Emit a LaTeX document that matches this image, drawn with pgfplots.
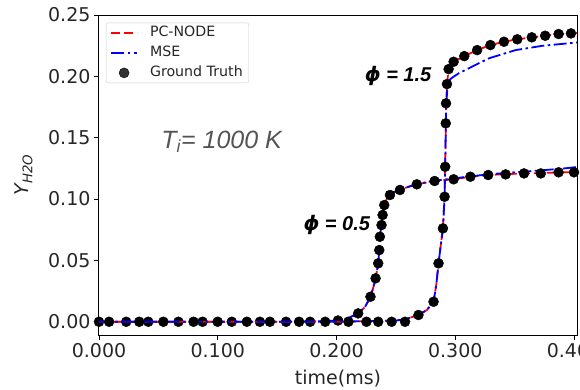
\documentclass[border=0pt]{standalone}
\usepackage{pgfplots}
\pgfplotsset{compat=1.18}
\usepackage{fontspec}
\setmainfont{DejaVu Sans}
\newfontfamily\arial{Liberation Sans}
\definecolor{annot}{gray}{0.33}

\begin{document}
\begin{tikzpicture}
\begin{axis}[
  name=ax,
  scale only axis,
  width=478pt, height=320pt,
  xmin=0, xmax=0.4025,
  ymin=-0.0108, ymax=0.25,
  xtick={0,0.1,0.2,0.3,0.4},
  ytick={0,0.05,0.1,0.15,0.2,0.25},
  tick align=outside,
  tick pos=left,
  major tick length=5pt,
  axis line style={line width=1pt},
  every tick/.style={black, line width=0.9pt},
  /pgf/number format/assume math mode=true,
  xticklabel style={/pgf/number format/fixed, /pgf/number format/fixed zerofill, /pgf/number format/precision=3},
  yticklabel style={/pgf/number format/fixed, /pgf/number format/fixed zerofill, /pgf/number format/precision=2},
  scaled ticks=false,
  tick label style={font=\fontsize{19}{22}\selectfont, text=black!85},
  xlabel={time(ms)},
  ylabel={\itshape Y\textsubscript{H2O}},
  label style={font=\fontsize{19}{22}\selectfont, text=black!85},
  xlabel style={at={(axis description cs:0.5,0)}, anchor=center, yshift=-44pt},
  ylabel style={at={(axis description cs:-0.158,0.5)}, anchor=center},
  legend cell align=left,
  legend image code/.code={\draw[mark repeat=2, mark phase=2, #1] plot coordinates {(0pt,0pt) (13pt,0pt) (26pt,0pt)};},
  legend style={at={(0,1)}, anchor=north west, xshift=7pt, yshift=-7.7pt,
    draw=black!20, rounded corners=2pt, fill=white, fill opacity=0.8, text opacity=1,
    font=\fontsize{14.2}{17}\selectfont, text=black!85,
    inner xsep=4pt, inner ysep=1.5pt, row sep=3pt,
    /tikz/every odd column/.style={column sep=10pt},
    nodes={inner sep=2pt, text height=10pt, text depth=3pt}},
  clip mode=individual,
]

% PC-NODE predictions
\addplot[red, dash pattern=on 9pt off 4pt, line width=1.8pt] coordinates {
  (0,0) (0.15,0) (0.19,0.0005) (0.20,0.001) (0.21,0.003) (0.2182,0.0068) (0.224,0.012)
  (0.2286,0.0204) (0.2310,0.028) (0.2329,0.0354) (0.2351,0.0476) (0.2360,0.0584)
  (0.2365,0.0693) (0.2379,0.0788) (0.2388,0.0870) (0.2402,0.0951) (0.2420,0.0995)
  (0.2450,0.1033) (0.2490,0.1058) (0.2534,0.1074) (0.2600,0.1098) (0.2676,0.1120)
  (0.2826,0.1147) (0.2986,0.1161) (0.3127,0.1182) (0.3277,0.1196) (0.3424,0.1203)
  (0.3579,0.1209) (0.3720,0.1212) (0.3870,0.1217) (0.4016,0.1219) (0.4025,0.1220)
};
\addlegendentry{PC-NODE}

% MSE predictions
\addplot[blue, line width=1.8pt, dash pattern=on 13pt off 3.5pt on 2.5pt off 3.5pt] coordinates {
  (0,0) (0.15,0) (0.19,0.0005) (0.20,0.001) (0.21,0.003) (0.2182,0.0068) (0.224,0.012)
  (0.2286,0.0204) (0.2310,0.028) (0.2329,0.0354) (0.2351,0.0476) (0.2360,0.0584)
  (0.2365,0.0693) (0.2379,0.0788) (0.2388,0.0870) (0.2402,0.0951) (0.2420,0.0995)
  (0.2450,0.1033) (0.2490,0.1058) (0.2534,0.1074) (0.2600,0.1098) (0.2676,0.1122)
  (0.2826,0.1150) (0.2986,0.1168) (0.3127,0.1185) (0.3300,0.1203) (0.3500,0.1218)
  (0.3700,0.1232) (0.3900,0.1248) (0.4025,0.1261)
};
\addlegendentry{MSE}

% Ground truth
\addplot[only marks, mark=*, mark size=5pt, black] coordinates {
  (0,0) (0.0229,0) (0.0415,0) (0.0669,0) (0.0872,0) (0.1118,0) (0.1355,0)
  (0.1575,0) (0.1778,0) (0.2012,0.001) (0.2182,0.0068) (0.2286,0.0204)
  (0.2329,0.0354) (0.2351,0.0476) (0.2360,0.0584) (0.2365,0.0693) (0.2379,0.0788)
  (0.2388,0.0870) (0.2402,0.0951) (0.2450,0.1033) (0.2534,0.1074) (0.2676,0.1120)
  (0.2826,0.1147) (0.2986,0.1161) (0.3127,0.1182) (0.3277,0.1196) (0.3424,0.1201)
  (0.3579,0.1209) (0.3720,0.1209) (0.3870,0.1218) (0.4000,0.1218)
};
\addlegendentry{Ground Truth}

% phi = 1.5 case
\addplot[red, dash pattern=on 9pt off 4pt, line width=1.8pt, forget plot] coordinates {
  (0,0) (0.20,0) (0.25,0.001) (0.2577,0.002) (0.2690,0.0055) (0.2760,0.0095)
  (0.2817,0.0163) (0.2840,0.030) (0.2859,0.0476) (0.2880,0.064) (0.2896,0.0761)
  (0.2910,0.1019) (0.2915,0.1263) (0.2921,0.1617) (0.2924,0.1780) (0.2930,0.1937)
  (0.2944,0.2059) (0.2986,0.2119) (0.3076,0.2165) (0.3184,0.2214) (0.3296,0.2255)
  (0.3410,0.2282) (0.3522,0.2302) (0.3644,0.2318) (0.3757,0.2331) (0.3870,0.2345)
  (0.3974,0.2350) (0.4025,0.2353)
};
\addplot[blue, line width=1.8pt, dash pattern=on 13pt off 3.5pt on 2.5pt off 3.5pt, forget plot] coordinates {
  (0,0) (0.20,0) (0.25,0.001) (0.2577,0.002) (0.2690,0.0055) (0.2760,0.0095)
  (0.2817,0.0163) (0.2840,0.030) (0.2859,0.0476) (0.2880,0.064) (0.2896,0.0761)
  (0.2910,0.1019) (0.2915,0.1263) (0.2921,0.1617) (0.2924,0.1780) (0.2935,0.1920)
  (0.2950,0.1970) (0.2975,0.1990) (0.3030,0.2025) (0.3113,0.2065) (0.3283,0.2147)
  (0.3508,0.2214) (0.3734,0.2249) (0.4025,0.2276)
};
\addplot[only marks, mark=*, mark size=5pt, black, forget plot] coordinates {
  (0.0085,0) (0.0339,0) (0.0542,0) (0.0796,0) (0.0999,0) (0.1245,0) (0.1439,0)
  (0.1685,0) (0.1905,0) (0.2100,0) (0.2252,0) (0.2351,0) (0.2464,0) (0.2577,0)
  (0.2690,0.0055) (0.2817,0.0163) (0.2859,0.0476) (0.2896,0.0761) (0.2910,0.1019)
  (0.2915,0.1263) (0.2920,0.1617) (0.2922,0.1780) (0.2930,0.1937) (0.2944,0.2059)
  (0.2986,0.2119) (0.3076,0.2165) (0.3184,0.2214) (0.3296,0.2255) (0.3410,0.2282)
  (0.3522,0.2302) (0.3644,0.2318) (0.3757,0.2331) (0.3870,0.2345) (0.3974,0.2350)
};

\node[anchor=base, text=annot, font=\arial\itshape\fontsize{25}{29}\selectfont]
  at (axis cs:0.1033,0.1416) {T\textsubscript{i}= 1000 K};
\node[anchor=base east, text=black, font=\arial\bfseries\itshape\fontsize{20}{24}\selectfont]
  at (axis cs:0.2312,0.0747) {{\normalfont\bfseries\itshape ϕ} = 0.5};
\node[anchor=base east, text=black, font=\arial\bfseries\itshape\fontsize{20}{24}\selectfont]
  at (axis cs:0.2828,0.1956) {{\normalfont\bfseries\itshape ϕ} = 1.5};
\end{axis}
\pgfresetboundingbox
\path[use as bounding box] ([shift={(-99pt,-54pt)}]ax.south west) rectangle ([shift={(3pt,15pt)}]ax.north east);
\end{tikzpicture}
\end{document}
